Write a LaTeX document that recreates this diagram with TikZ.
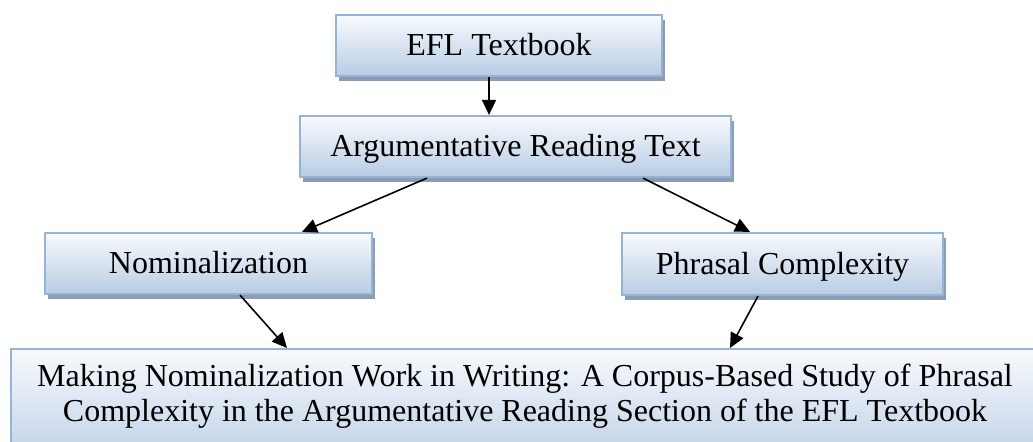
\documentclass[tikz,border=0pt]{standalone}
\usepackage{fontspec}
\setmainfont{Liberation Serif}
\usetikzlibrary{shadows,arrows.meta,calc}
\definecolor{boxtop}{HTML}{F8FAFD}
\definecolor{boxbottom}{HTML}{B8CCE4}
\definecolor{boxline}{HTML}{95B3D7}
\definecolor{boxshade}{HTML}{8E9CB1}
\tikzset{
  boxfont/.style={font=\fontsize{16pt}{17.5pt}\selectfont},
  flowbox/.style={draw=boxline, line width=1.1pt, top color=boxtop, bottom color=boxbottom,
    general shadow={shadow xshift=1.5pt, shadow yshift=-2.5pt, fill=boxshade},
    inner sep=0pt, text height=14pt, text depth=3.5pt, boxfont},
  flowarrow/.style={line width=0.8pt, -{Triangle[length=7.5pt,width=7pt]}},
}
\begin{document}
\begin{tikzpicture}[x=0.5pt,y=-0.5pt]
\clip (0,0) rectangle (1033,442);
\useasboundingbox (0,0) rectangle (1033,442);
\node[flowbox, minimum width=163pt, minimum height=30.5pt] (efl) at (499,45.5) {EFL Textbook};
\node[flowbox, minimum width=215.5pt, minimum height=30.5pt] (arg) at (515.5,146.5) {Argumentative Reading Text};
\node[flowbox, minimum width=163.5pt, minimum height=30.5pt] (nom) at (208.5,263.5) {Nominalization};
\node[flowbox, minimum width=160.5pt, minimum height=31pt] (phr) at (782.5,264) {Phrasal Complexity};
\node[flowbox, minimum width=517.5pt, minimum height=61pt, anchor=north west] (final) at (10,348) {};
\node[boxfont, align=center, inner sep=0pt, anchor=base] (finaltext) at (525,422)
  {Making Nominalization Work in Writing: A Corpus-Based Study of Phrasal\\
   Complexity in the Argumentative Reading Section of the EFL Textbook};
% connectors
\draw[flowarrow] ([xshift=-5pt]efl.south) -- ([xshift=-13.25pt]arg.north);
\draw[flowarrow] ([xshift=-44.25pt]arg.south) -- ([xshift=46.75pt]nom.north);
\draw[flowarrow] ([xshift=63.75pt]arg.south) -- ([xshift=-16.25pt]phr.north);
\draw[flowarrow] ([xshift=15.75pt]nom.south) -- ($(final.north west)+(277,0)$);
\draw[flowarrow] ([xshift=-12.25pt]phr.south) -- ($(final.north west)+(720,0)$);
\end{tikzpicture}
\end{document}
